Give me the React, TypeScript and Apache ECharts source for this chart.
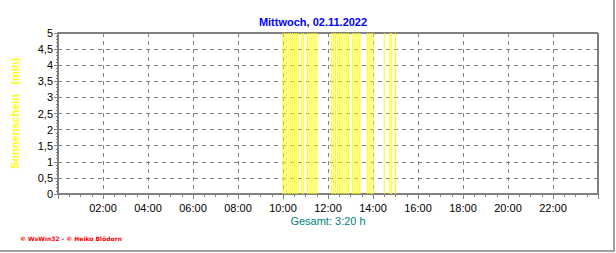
import React, { useEffect, useRef } from "react";
import * as echarts from "echarts";

const title = "Mittwoch, 02.11.2022";
const yName = "Sonnenschein   (min)";
const totalText = "Gesamt: 3:20 h";
const credit = "© WsWin32 - © Heiko Blödorn";

const sunTimes = [
  "10:00", "10:05", "10:10", "10:15", "10:20", "10:25", "10:30", "10:35", "10:40",
  "10:50", "10:55",
  "11:05", "11:10", "11:15", "11:20", "11:25", "11:30",
  "12:10", "12:15", "12:20", "12:25", "12:30", "12:35", "12:40", "12:45", "12:50", "12:55",
  "13:05", "13:10", "13:15", "13:20", "13:25",
  "13:45", "13:50", "13:55", "14:00",
  "14:30",
  "14:45", "14:50",
  "15:00",
];
const sunMinutes = [
  5, 5, 5, 5, 5, 5, 5, 5, 5,
  5, 5,
  5, 5, 5, 5, 5, 5,
  5, 5, 5, 5, 5, 5, 5, 5, 5, 5,
  5, 5, 5, 5, 5,
  5, 5, 5, 5,
  5,
  5, 5,
  5,
];

const toHours = (t: string) => {
  const [h, m] = t.split(":").map(Number);
  return h + m / 60;
};

export default function App() {
  const ref = useRef<HTMLDivElement>(null);
  useEffect(() => {
    if (!ref.current) return;
    const chart = echarts.init(ref.current, undefined, { renderer: "svg" });
    const data = sunTimes.map((t, i) => [toHours(t), sunMinutes[i]]);
    chart.setOption({
      animation: false,
      backgroundColor: "#ffffff",
      title: {
        text: title,
        left: 308,
        textAlign: "center",
        top: 11,
        textStyle: { color: "#0000ff", fontSize: 11, fontWeight: "bold", fontFamily: "Liberation Sans" },
      },
      grid: {
        left: 58,
        right: 18,
        top: 33,
        bottom: 59,
        show: true,
        borderColor: "#000000",
        borderWidth: 1,
        backgroundColor: "transparent",
      },
      xAxis: {
        type: "value",
        min: 0,
        max: 24,
        interval: 2,
        axisLine: { show: true, lineStyle: { color: "#808080", width: 2 } },
        axisTick: { show: true, length: 5, lineStyle: { color: "#808080" } },
        minorTick: { show: true, splitNumber: 4, length: 3, lineStyle: { color: "#808080" } },
        splitLine: { show: true, lineStyle: { color: "#808080", type: [4, 4], width: 1 } },
        axisLabel: {
          color: "#000000",
          fontSize: 11,
          fontFamily: "Liberation Sans",
          margin: 8,
          formatter: (v: number) => (v <= 0 || v >= 24 ? "" : (v < 10 ? "0" : "") + v + ":00"),
        },
      },
      yAxis: {
        type: "value",
        min: 0,
        max: 5,
        interval: 0.5,
        name: yName,
        nameLocation: "middle",
        nameRotate: 90,
        nameGap: 38,
        nameTextStyle: { color: "#ffff00", fontSize: 11, fontWeight: "bold", fontFamily: "Liberation Sans" },
        axisLine: { show: true, lineStyle: { color: "#808080", width: 2 } },
        axisTick: { show: true, length: 4, lineStyle: { color: "#808080" } },
        minorTick: { show: true, splitNumber: 5, length: 2, lineStyle: { color: "#808080" } },
        splitLine: { show: true, lineStyle: { color: "#808080", type: [4, 4], width: 1 } },
        axisLabel: {
          color: "#000000",
          fontSize: 11,
          fontFamily: "Liberation Sans",
          margin: 5,
          formatter: (v: number) => String(v).replace(".", ","),
        },
      },
      series: [
        {
          type: "bar",
          data,
          barWidth: 1,
          itemStyle: { color: "#ffff00" },
          z: 1,
        },
      ],
      graphic: [
        {
          type: "text",
          x: 328,
          y: 215,
          style: { text: totalText, fill: "#008080", fontSize: 11, fontFamily: "Liberation Sans", align: "center" },
        },
        {
          type: "text",
          left: 20,
          top: 235,
          style: { text: credit, fill: "#ff0000", fontSize: 6, fontWeight: "bold", fontFamily: "DejaVu Sans" },
        },
        {
          type: "line",
          shape: { x1: 614, y1: 0, x2: 614, y2: 251 },
          style: { stroke: "#a0a0a0", lineWidth: 2 },
        },
        {
          type: "line",
          shape: { x1: 0, y1: 251, x2: 615, y2: 251 },
          style: { stroke: "#a0a0a0", lineWidth: 2 },
        },
      ],
    });
    return () => chart.dispose();
  }, []);
  return (
    <div
      ref={ref}
      style={{ position: "fixed", left: 0, top: 0, width: 616, height: 253 }}
    />
  );
}
